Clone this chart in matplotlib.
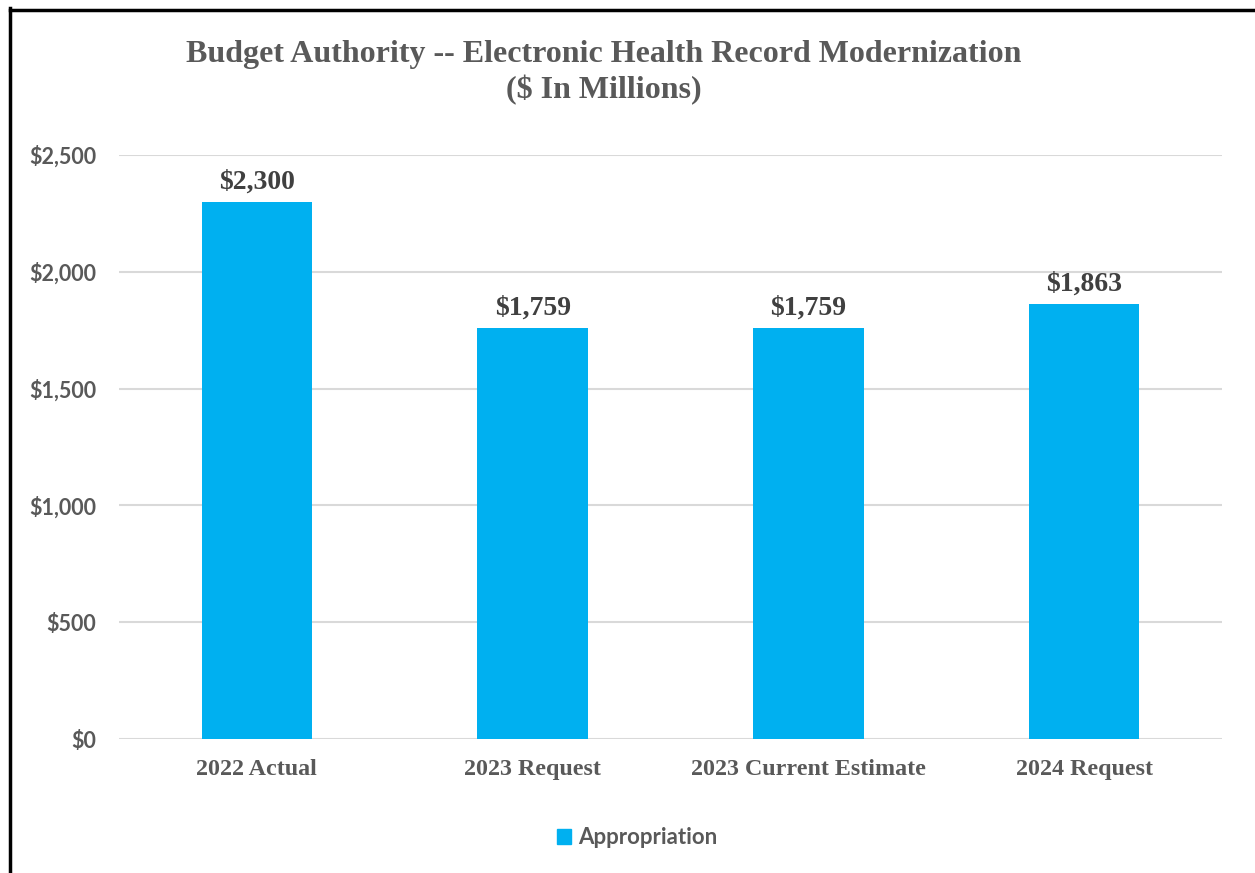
import matplotlib
matplotlib.use("Agg")
import matplotlib.pyplot as plt
from matplotlib.lines import Line2D
from matplotlib.patches import Patch

categories = ["2022 Actual", "2023 Request", "2023 Current Estimate", "2024 Request"]
values = [2300, 1759, 1759, 1863]
yticks = [0, 500, 1000, 1500, 2000, 2500]
series_name = "Appropriation"

W, H = 1255, 873
fig = plt.figure(figsize=(W / 100, H / 100), dpi=100)
ax = fig.add_axes([119 / W, 1 - 739 / H, (1222 - 119) / W, (739 - 155) / H])

bar_color = "#00B0F0"
x = range(len(categories))
bars = ax.bar(x, values, width=0.4, color=bar_color, zorder=3)

ax.set_xlim(-0.5, len(categories) - 0.5)
ax.set_ylim(0, 2500)
ax.set_yticks(yticks)
ax.set_yticklabels([f"${v:,}" for v in yticks], fontfamily="Lato", fontweight="bold",
                   fontsize=15.5, color="#595959")
ax.set_xticks(list(x))
ax.set_xticklabels(categories, fontfamily="Liberation Serif", fontweight="bold",
                   fontsize=17.3, color="#595959")
ax.tick_params(axis="both", length=0)
ax.tick_params(axis="y", pad=16.5)
ax.tick_params(axis="x", pad=14.5)
for s in ax.spines.values():
    s.set_visible(False)
ax.grid(axis="y", color="#D9D9D9", linewidth=1.5, zorder=0)

for xi, v in zip(x, values):
    ax.annotate(f"${v:,}", (xi, v), xytext=(0, 5), textcoords="offset points",
                ha="center", va="bottom", fontfamily="Liberation Serif",
                fontweight="bold", fontsize=20, color="#404040")

fig.text(604 / W, 1 - 72.5 / H, "Budget Authority -- Electronic Health Record Modernization\n($ In Millions)",
         ha="center", va="center", fontfamily="Liberation Serif", fontweight="bold",
         fontsize=23, color="#595959", linespacing=1.27)

leg = fig.legend(handles=[Patch(color=bar_color, label=series_name)], loc="center",
                 bbox_to_anchor=(637 / W, 1 - 838 / H), frameon=False,
                 prop={"family": "Lato", "weight": "bold", "size": 16},
                 handlelength=0.65, handleheight=0.65, handletextpad=0.3)
for t in leg.get_texts():
    t.set_color("#595959")

fig.add_artist(Line2D([9.5 / W, 9.5 / W], [0, 1 - 8 / H], color="black", linewidth=2.5,
                      transform=fig.transFigure, solid_capstyle="projecting"))
fig.add_artist(Line2D([9.5 / W, 1], [1 - 9.5 / H, 1 - 9.5 / H], color="black", linewidth=2.5,
                      transform=fig.transFigure, solid_capstyle="projecting"))

fig.savefig("out.png", dpi=100, facecolor="white")
